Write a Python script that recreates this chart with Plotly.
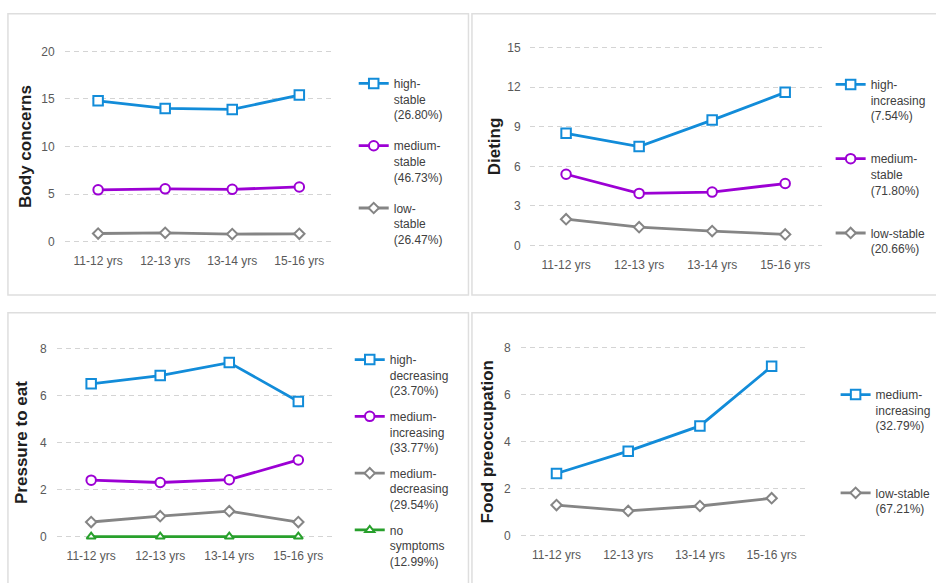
import plotly.graph_objects as go

W, H = 936, 583

# Age waves shared by all four panels
ages = ["11-12 yrs", "12-13 yrs", "13-14 yrs", "15-16 yrs"]

# Body concerns trajectories
body_high = [14.8, 14.0, 13.9, 15.4]
body_medium = [5.45, 5.55, 5.5, 5.75]
body_low = [0.86, 0.93, 0.8, 0.83]
body_names = ["high-<br>stable<br>(26.80%)", "medium-<br>stable<br>(46.73%)", "low-<br>stable<br>(26.47%)"]

# Dieting trajectories
diet_high = [8.5, 7.5, 9.5, 11.6]
diet_medium = [5.4, 3.95, 4.05, 4.7]
diet_low = [2.0, 1.4, 1.1, 0.85]
diet_names = ["high-<br>increasing<br>(7.54%)", "medium-<br>stable<br>(71.80%)", "low-stable<br>(20.66%)"]

# Pressure to eat trajectories
press_high = [6.5, 6.85, 7.4, 5.75]
press_med_inc = [2.4, 2.3, 2.42, 3.26]
press_med_dec = [0.62, 0.87, 1.08, 0.62]
press_none = [0, 0, 0, 0]
press_names = ["high-<br>decreasing<br>(23.70%)", "medium-<br>increasing<br>(33.77%)",
               "medium-<br>decreasing<br>(29.54%)", "no<br>symptoms<br>(12.99%)"]

# Food preoccupation trajectories
food_med_inc = [2.65, 3.6, 4.67, 7.2]
food_low = [1.31, 1.06, 1.27, 1.6]
food_names = ["medium-<br>increasing<br>(32.79%)", "low-stable<br>(67.21%)"]

BLUE = "#128cd9"
PURPLE = "#9c00d4"
GRAY = "#858585"
GREEN = "#28a02c"

STYLE = {
    "sq": dict(color=BLUE, symbol="square", size=9.5),
    "ci": dict(color=PURPLE, symbol="circle", size=9.5),
    "di": dict(color=GRAY, symbol="diamond", size=8),
    "tr": dict(color=GREEN, symbol="triangle-up", size=8),
}


def fx(px):
    return px / W


def fy(py):
    return 1 - py / H


fig = go.Figure()


def add_series(values, name, style, idx, group):
    s = STYLE[style]
    suffix = "" if idx == 1 else str(idx)
    fig.add_trace(go.Scatter(
        x=ages, y=values, name=name, mode="lines+markers",
        line=dict(color=s["color"], width=2.8),
        marker=dict(symbol=s["symbol"], size=s["size"], color="white",
                    line=dict(color=s["color"], width=2)),
        xaxis="x" + suffix, yaxis="y" + suffix,
        legend="legend" + suffix, legendgroup=group,
        cliponaxis=False,
    ))


add_series(body_high, body_names[0], "sq", 1, "b1")
add_series(body_medium, body_names[1], "ci", 1, "b2")
add_series(body_low, body_names[2], "di", 1, "b3")

add_series(diet_high, diet_names[0], "sq", 2, "d1")
add_series(diet_medium, diet_names[1], "ci", 2, "d2")
add_series(diet_low, diet_names[2], "di", 2, "d3")

add_series(press_high, press_names[0], "sq", 3, "p1")
add_series(press_med_inc, press_names[1], "ci", 3, "p2")
add_series(press_med_dec, press_names[2], "di", 3, "p3")
add_series(press_none, press_names[3], "tr", 3, "p4")

add_series(food_med_inc, food_names[0], "sq", 4, "f1")
add_series(food_low, food_names[1], "di", 4, "f2")

FONT = "Liberation Sans, Arial, sans-serif"
TICK_FONT = dict(family=FONT, size=12, color="#595959")
GRID = "#d4d4d4"


def xaxis(x0, x1, anchor):
    return dict(domain=[fx(x0), fx(x1)], anchor=anchor, type="category",
                range=[-0.5, 3.5], showgrid=False, zeroline=False, showline=False,
                ticks="", tickfont=TICK_FONT, ticklabelstandoff=7, fixedrange=True)


def yaxis(y0, y1, anchor, top, dtick, title, standoff, tstand):
    # widen the range by a few pixels so the 0 and top gridlines are kept
    span = y0 - y1
    pad = 3.0
    eps = pad * top / span
    return dict(domain=[fy(y0 + pad), fy(y1 - pad)], anchor=anchor, range=[-eps, top + eps],
                dtick=dtick,
                showgrid=True, gridcolor=GRID, griddash="5px,4px", gridwidth=1,
                zeroline=False, showline=False, ticks="", tickfont=TICK_FONT,
                ticklabelstandoff=tstand,
                title=dict(text="<b>%s</b>" % title, standoff=standoff,
                           font=dict(family=FONT, size=17, color="#1e1e1e")),
                fixedrange=True)


def legend(x, y, gap):
    return dict(x=fx(x), y=fy(y), xanchor="left", yanchor="top",
                bgcolor="rgba(0,0,0,0)", borderwidth=0, valign="top",
                font=dict(family=FONT, size=12, color="#404040"),
                traceorder="grouped", tracegroupgap=gap, itemwidth=30)


# Thin light frames around each panel
frames = [(8, 10, 471.5, 295), (475, 10, 945, 295), (8, 313, 471.5, 595), (475, 313, 945, 595)]
shapes = [dict(type="rect", xref="paper", yref="paper", x0=fx(a), x1=fx(c), y0=fy(d), y1=fy(b),
               line=dict(color="#dedede", width=1.5), layer="below") for a, b, c, d in frames]

fig.update_layout(
    width=W, height=H, margin=dict(l=0, r=0, t=0, b=0),
    paper_bgcolor="white", plot_bgcolor="white",
    font=dict(family=FONT),
    showlegend=True,
    xaxis=xaxis(65, 335, "y"),
    yaxis=yaxis(241, 48, "x", 20, 5, "Body concerns", 5, 9),
    xaxis2=xaxis(533, 827, "y2"),
    yaxis2=yaxis(245, 44, "x2", 15, 3, "Dieting", 2, 8),
    xaxis3=xaxis(57, 335, "y3"),
    yaxis3=yaxis(540, 349.3, "x3", 8, 2, "Pressure to eat", 7, 9),
    xaxis4=xaxis(524, 812.7, "y4"),
    yaxis4=yaxis(539.3, 348.3, "x4", 8, 2, "Food preoccupation", 5, 9),
    legend=legend(356, 66, 12.5),
    legend2=legend(836, 67, 24.5),
    legend3=legend(352, 346, 7),
    legend4=legend(841, 381.5, 48.5),
    shapes=shapes,
)

fig.write_html("out.html")
